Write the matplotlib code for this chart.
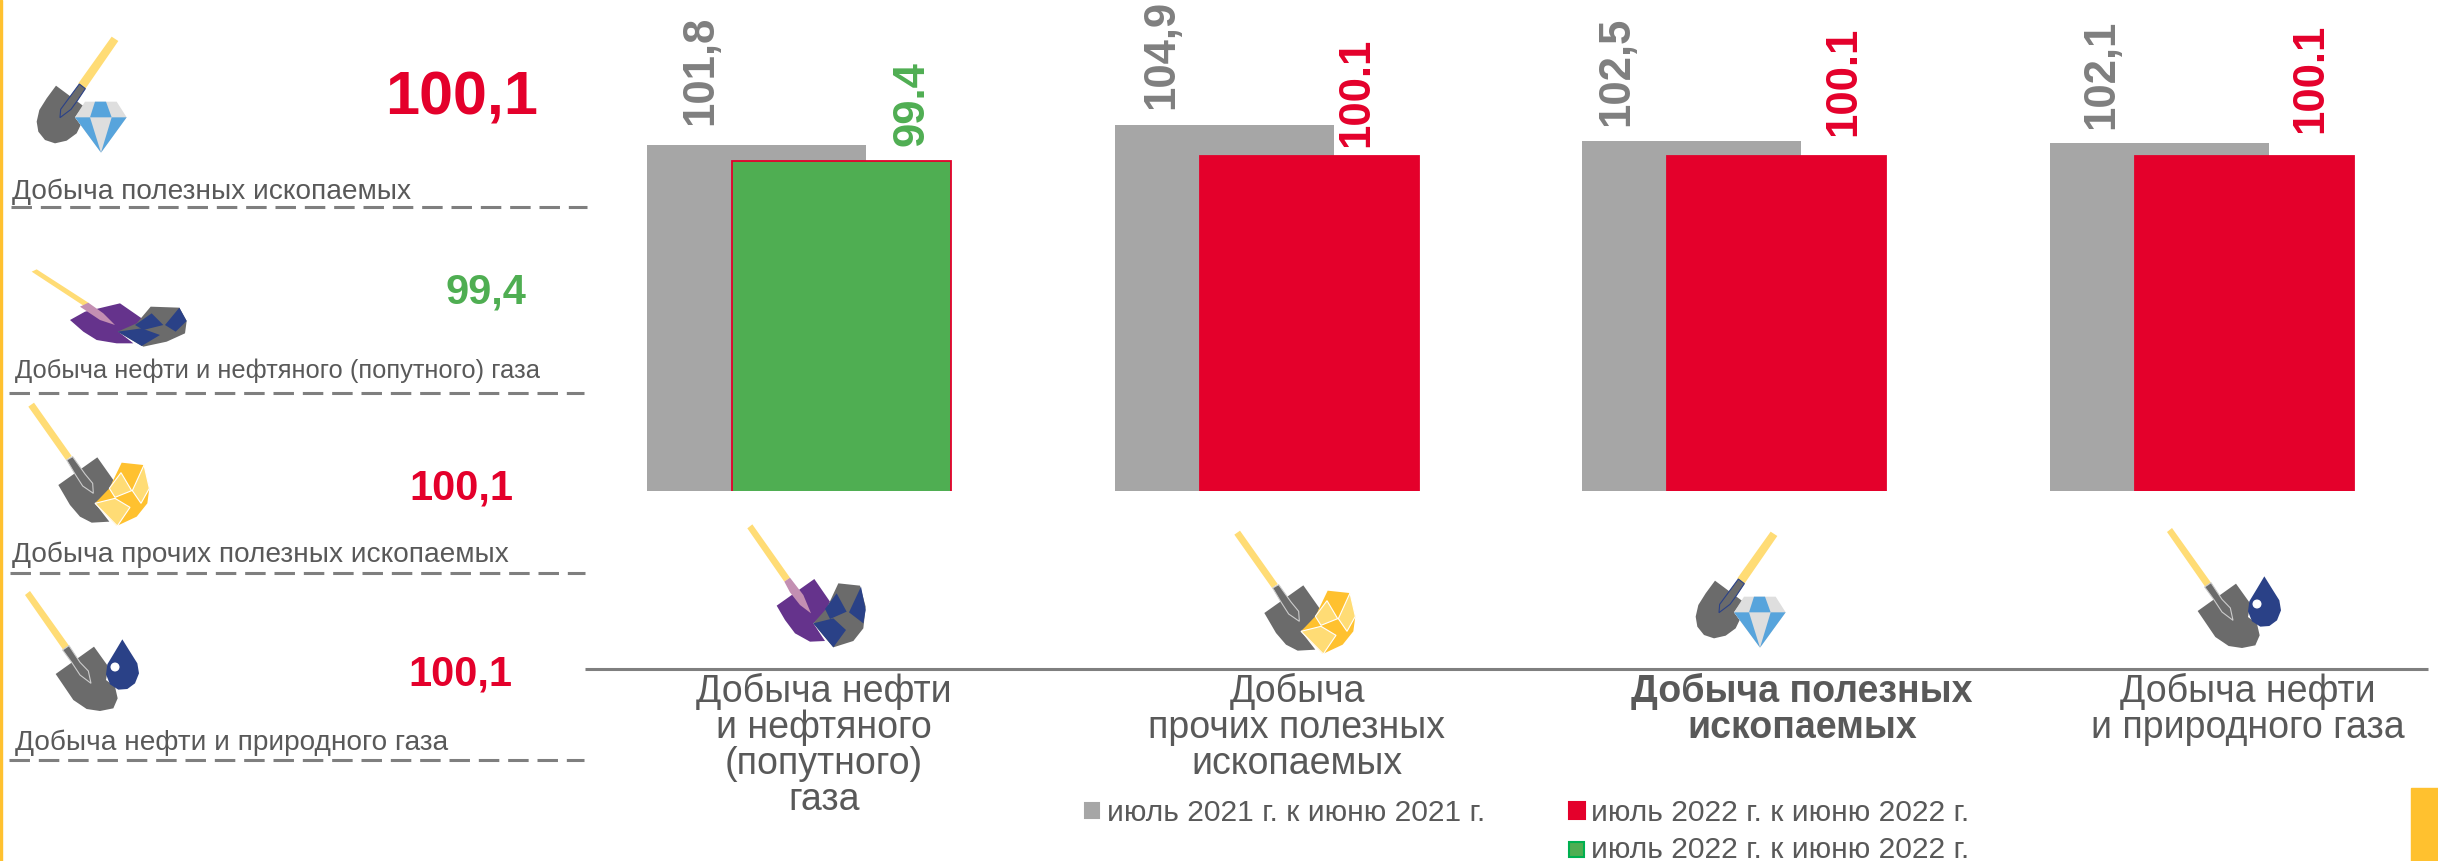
from matplotlib import pyplot as plt
from matplotlib.patches import Polygon, Circle, Rectangle
import numpy as np

plt.rcParams['font.family'] = ['Liberation Sans', 'DejaVu Sans']

categories = ['Добыча нефти\nи нефтяного\n(попутного)\nгаза',
              'Добыча\nпрочих полезных\nископаемых',
              'Добыча полезных\nископаемых',
              'Добыча нефти\nи природного газа']
values_2021 = [101.8, 104.9, 102.5, 102.1]
values_2022 = [99.4, 100.1, 100.1, 100.1]
labels_2021 = ['101,8', '104,9', '102,5', '102,1']
labels_2022 = ['99.4', '100.1', '100.1', '100.1']

side_names = ['Добыча полезных ископаемых',
              'Добыча нефти и нефтяного (попутного) газа',
              'Добыча прочих полезных ископаемых',
              'Добыча нефти и природного газа']
side_values = ['100,1', '99,4', '100,1', '100,1']

legend_names = ['июль 2021 г. к июню 2021 г.',
                'июль 2022 г. к июню 2022 г.',
                'июль 2022 г. к июню 2022 г.']

GREY = '#A6A6A6'
RED = '#E4002B'
GREEN = '#4FAE52'
TEXT = '#595959'
LABEL_GREY = '#7F7F7F'
YELLOW = '#FFC12F'
LIGHT = '#FFDC75'
SHOVEL = '#6B6B6B'
BLUE = '#2A4187'

# shapes of the icons, in pixels x3 from the corner of each icon
handle_d = [(275, 20), (295, 33), (195, 178), (175, 160)]
diamond_icon = [
    ([(108, 167), (190, 228), (165, 262), (182, 285), (170, 310), (140, 332), (105, 340),
      (75, 330), (55, 305), (50, 275), (58, 240), (80, 205)], SHOVEL, None),
    (handle_d, LIGHT, None),
    ([(178, 162), (196, 176), (172, 212), (153, 238), (120, 263), (122, 238), (150, 200)], SHOVEL, BLUE),
    ([(195, 215), (290, 215), (320, 262), (243, 368), (165, 262)], '#DEDEDE', None),
    ([(225, 215), (258, 215), (275, 262), (210, 262)], '#57A4DC', None),
    ([(165, 262), (210, 262), (243, 368)], '#57A4DC', None),
    ([(275, 262), (320, 262), (243, 368)], '#57A4DC', None),
]
gold_icon = [
    ([(232, 172), (280, 240), (270, 270), (225, 310), (268, 365), (215, 368), (180, 350),
      (150, 315), (115, 255)], SHOVEL, None),
    ([(25, 20), (42, 8), (155, 168), (138, 180)], LIGHT, None),
    ([(140, 180), (158, 170), (195, 222), (218, 250), (220, 280), (188, 258), (165, 222)], SHOVEL, '#CCCCCC'),
    ([(305, 188), (370, 195), (388, 265), (382, 310), (350, 350), (290, 378), (225, 310), (268, 265)], YELLOW, None),
    ([(268, 265), (303, 218), (335, 272), (285, 292)], LIGHT, 'white'),
    ([(372, 195), (388, 265), (363, 310), (337, 272)], LIGHT, 'white'),
    ([(225, 310), (285, 295), (330, 322), (292, 378)], LIGHT, 'white'),
]
drop_icon = [
    ([(222, 185), (265, 245), (258, 285), (285, 305), (293, 340), (280, 370), (240, 378),
      (200, 372), (160, 345), (107, 267)], SHOVEL, None),
    ([(15, 30), (30, 18), (147, 182), (130, 195)], LIGHT, None),
    ([(128, 195), (147, 182), (180, 232), (205, 258), (213, 295), (180, 270), (155, 232)], SHOVEL, '#CCCCCC'),
    ([(307, 163), (330, 200), (352, 235), (357, 265), (345, 295), (322, 312), (295, 314),
      (270, 298), (258, 268), (262, 238), (285, 200)], BLUE, None),
]
coal_icon = [
    ([(238, 192), (285, 260), (265, 300), (235, 325), (270, 378), (225, 380), (180, 355),
      (150, 315), (125, 272)], '#65338C', None),
    ([(37, 40), (52, 28), (165, 188), (148, 200)], LIGHT, None),
    ([(148, 200), (165, 188), (205, 240), (228, 295), (195, 270), (165, 232)], '#C38FB2', None),
    ([(310, 205), (375, 212), (392, 275), (385, 340), (355, 378), (295, 397), (235, 325), (275, 280)], SHOVEL, None),
    ([(305, 235), (335, 290), (285, 312), (270, 282)], BLUE, None),
    ([(378, 215), (392, 285), (385, 325), (342, 292)], BLUE, None),
    ([(235, 325), (295, 310), (333, 345), (295, 397)], BLUE, None),
]
coal_icon_flat = [
    ([(300, 130), (365, 175), (345, 210), (295, 215), (340, 250), (290, 250), (230, 240),
      (190, 215), (150, 180), (195, 155)], '#65338C', None),
    ([(35, 35), (50, 28), (205, 128), (195, 140)], LIGHT, None),
    ([(180, 140), (205, 128), (250, 160), (285, 195), (240, 180)], '#C38FB2', None),
    ([(392, 140), (478, 143), (500, 183), (495, 220), (440, 245), (370, 260), (293, 215), (350, 190)], SHOVEL, None),
    ([(345, 195), (395, 160), (430, 195), (370, 210)], BLUE, None),
    ([(478, 143), (500, 183), (467, 215), (435, 195)], BLUE, None),
    ([(293, 215), (365, 205), (420, 225), (365, 258)], BLUE, None),
]


def draw_icon(ov, parts, ox, oy):
    for points, fill, edge in parts:
        pts = np.array(points) / 3.0 + [ox, oy]
        ov.add_patch(Polygon(pts, closed=True, facecolor=fill, edgecolor=edge if edge else fill,
                             linewidth=0.8 if edge else 0, zorder=3))


def draw_drop_hole(ov, ox, oy):
    ov.add_patch(Circle((285 / 3.0 + ox, 246 / 3.0 + oy), 3.8, color='white', zorder=4))


def draw_bars(ax):
    x = np.arange(len(categories))
    ax.bar(x - 0.0908, values_2021, width=0.468, color=GREY)
    colors = [GREEN, RED, RED, RED]
    ax.bar(x + 0.0908, values_2022, width=0.468, color=colors, edgecolor=RED, linewidth=1.3, zorder=2)
    ax.set_xlim(-799 / 467.7, (2438 - 799) / 467.7)
    ax.set_ylim(48.2, 48.2 + 491 / 6.45)
    ax.axis('off')

    dx_2021 = [-56, -62, -75, -58]
    gap_2021 = [20, 16, 15, 14]
    dx_2022 = [71, 48, 67, 66]
    gap_2022 = [15, 9, 20, 23]
    for i in x:
        ax.annotate(labels_2021[i], (i - 0.0908, values_2021[i]), xytext=(dx_2021[i] * 0.72, gap_2021[i] * 0.72),
                    textcoords='offset points', rotation=90, ha='center', va='bottom',
                    fontsize=31.5, fontweight='bold', color=LABEL_GREY)
        ax.annotate(labels_2022[i], (i + 0.0908, values_2022[i]), xytext=(dx_2022[i] * 0.72, gap_2022[i] * 0.72),
                    textcoords='offset points', rotation=90, ha='center', va='bottom',
                    fontsize=31.5, fontweight='bold', color=GREEN if i == 0 else RED)


def draw_side(ov):
    name_pos = [(12, 199), (15, 378), (12, 562), (15, 750)]
    name_size = [20.15, 18.4, 20.15, 20.15]
    dash_pos = [(11, 587, 207), (9, 584, 393), (10, 585, 573), (9, 584, 760)]
    value_pos = [(538, 114), (526, 303), (513, 500), (512, 685)]
    value_size = [44, 30, 30, 30]
    value_color = [RED, GREEN, RED, RED]
    for i in range(4):
        ov.text(name_pos[i][0], name_pos[i][1], side_names[i], fontsize=name_size[i], color=TEXT,
                va='baseline', ha='left')
        ov.plot(dash_pos[i][:2], [dash_pos[i][2]] * 2, color='#7F7F7F', linewidth=2.2,
                dashes=(6.7, 2.9), dash_capstyle='butt')
        ov.text(value_pos[i][0], value_pos[i][1], side_values[i], fontsize=value_size[i], fontweight='bold',
                color=value_color[i], va='baseline', ha='right')


def draw_labels(ov):
    centers = [824, 1297, 1802, 2248]
    weights = ['normal', 'normal', 'bold', 'normal']
    for i in range(4):
        for j, line in enumerate(categories[i].split('\n')):
            ov.text(centers[i], 702 + 36 * j, line, fontsize=27, color=TEXT, ha='center', va='baseline',
                    fontweight=weights[i])
    ov.plot([585, 2428], [669, 669], color='#7F7F7F', linewidth=2.2, solid_capstyle='butt')


def draw_legend(ov):
    boxes = [(1085, 803, 14, 15, GREY, GREY), (1569, 802, 16, 17, RED, RED), (1569, 842, 15, 15, GREEN, '#00B050')]
    text_pos = [(1107, 821), (1591, 821), (1591, 858)]
    for i in range(3):
        x0, y0, w, h, fill, edge = boxes[i]
        ov.add_patch(Rectangle((x0, y0), w, h, facecolor=fill, edgecolor=edge, linewidth=1.5))
        ov.text(text_pos[i][0], text_pos[i][1], legend_names[i], fontsize=21.6, color=TEXT, va='baseline', ha='left')


def show_chart():
    fig = plt.figure(figsize=(24.38, 8.61), dpi=100)
    ax = fig.add_axes([0, (861 - 491) / 861, 1, 491 / 861])
    ov = fig.add_axes([0, 0, 1, 1])
    ov.set_xlim(0, 2438)
    ov.set_ylim(861, 0)
    ov.axis('off')
    ov.patch.set_alpha(0)

    draw_bars(ax)
    draw_side(ov)
    draw_labels(ov)
    draw_legend(ov)

    draw_icon(ov, diamond_icon, 20, 30)
    draw_icon(ov, coal_icon_flat, 20, 260)
    draw_icon(ov, gold_icon, 20, 400)
    draw_icon(ov, drop_icon, 20, 585)
    draw_drop_hole(ov, 20, 585)
    draw_icon(ov, coal_icon, 735, 515)
    draw_icon(ov, gold_icon, 1226, 528)
    draw_icon(ov, diamond_icon, 1679, 525)
    draw_icon(ov, drop_icon, 2162, 522)
    draw_drop_hole(ov, 2162, 522)

    ov.add_patch(Rectangle((0, 0), 2, 861, color=YELLOW))
    ov.add_patch(Rectangle((2411, 788), 27, 73, color=YELLOW))

    fig.savefig('out.png', dpi=100)


if __name__ == '__main__':
    show_chart()
